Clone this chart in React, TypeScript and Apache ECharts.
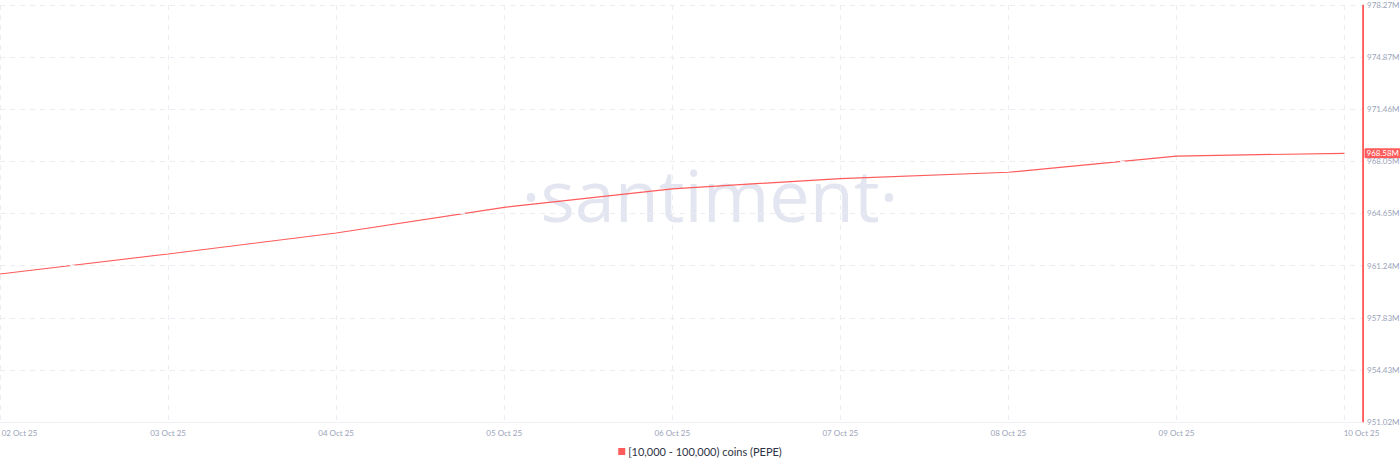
import React, { useEffect, useRef } from "react";
import * as echarts from "echarts";

const DATES = [
  "2025-10-02",
  "2025-10-03",
  "2025-10-04",
  "2025-10-05",
  "2025-10-06",
  "2025-10-07",
  "2025-10-08",
  "2025-10-09",
  "2025-10-10",
];
// values in millions of PEPE
const VALUES = [960.69, 962.0, 963.37, 965.05, 966.26, 966.93, 967.34, 968.4, 968.58];
const Y_TICKS = [951.02, 954.43, 957.83, 961.24, 964.65, 968.05, 971.46, 974.87, 978.27];
const SERIES_NAME = "[10,000 - 100,000) coins (PEPE)";
const MONTHS = ["Jan", "Feb", "Mar", "Apr", "May", "Jun", "Jul", "Aug", "Sep", "Oct", "Nov", "Dec"];

const RED = "#ff5b5b";
const LABEL_COLOR = "#9aa3b8";
const GRID_COLOR = "#ebedf2";

function toTime(s: string): number {
  const [y, m, d] = s.split("-").map(Number);
  return new Date(y, m - 1, d).getTime();
}

export default function App() {
  const ref = useRef<HTMLDivElement>(null);
  useEffect(() => {
    document.body.style.margin = "0";
    if (!ref.current) return;
    const chart = echarts.init(ref.current, undefined, { renderer: "svg" });
    const times = DATES.map(toTime);
    const day = 86400000;
    const firstTime = times[0];
    const lastTime = times[times.length - 1];
    const xMax = lastTime + 0.11 * day;
    const last = VALUES[VALUES.length - 1];
    const watermark = {
      type: "text",
      x: 710,
      y: 194,
      silent: true,
      z: 0,
      style: {
        text: "·santiment·",
        fill: "#e3e6f0",
        fontSize: 72,
        fontFamily: "'Open Sans', sans-serif",
        fontWeight: "normal",
        textAlign: "center",
        textVerticalAlign: "middle",
      },
    };
    chart.setOption({
      animation: false,
      backgroundColor: "#ffffff",
      textStyle: { fontFamily: "Lato, 'Open Sans', sans-serif" },
      grid: {
        left: 0,
        right: 37,
        top: 5,
        bottom: 51,
        containLabel: false,
        outerBoundsMode: "none",
      },
      graphic: [watermark],
      legend: {
        bottom: 11,
        left: "center",
        icon: "rect",
        itemWidth: 7,
        itemHeight: 7,
        itemGap: 4,
        textStyle: { color: "#2f3344", fontSize: 11, padding: [0, 0, 0, -2] },
        data: [SERIES_NAME],
      },
      xAxis: {
        type: "time",
        min: firstTime,
        max: xMax,
        minInterval: day,
        maxInterval: day,
        axisLine: { show: true, lineStyle: { color: "#eef0f4" } },
        axisTick: { show: false },
        splitLine: {
          show: true,
          showMaxLine: false,
          lineStyle: { color: GRID_COLOR, type: [5, 5] },
        },
        axisLabel: {
          color: LABEL_COLOR,
          fontSize: 8,
          margin: 7,
          showMaxLabel: false,
          hideOverlap: false,
          rich: {
            first: { color: LABEL_COLOR, fontSize: 8, padding: [0, 0, 0, 39] },
            last: { color: LABEL_COLOR, fontSize: 8, padding: [0, 0, 0, 34] },
          },
          formatter: (v: number) => {
            const d = new Date(v);
            const dd = String(d.getDate()).padStart(2, "0");
            const yy = String(d.getFullYear() % 100).padStart(2, "0");
            const s = `${dd} ${MONTHS[d.getMonth()]} ${yy}`;
            if (v === firstTime) return `{first|${s}}`;
            if (v === lastTime) return `{last|${s}}`;
            return s;
          },
        },
      },
      yAxis: {
        type: "value",
        position: "right",
        z: 5,
        min: Y_TICKS[0],
        max: Y_TICKS[Y_TICKS.length - 1],
        axisLine: { show: true, onZero: false, lineStyle: { color: RED, width: 1 } },
        axisTick: { show: false, customValues: Y_TICKS },
        splitLine: { show: true, lineStyle: { color: GRID_COLOR, type: [5, 5] } },
        axisLabel: {
          customValues: Y_TICKS,
          color: LABEL_COLOR,
          fontSize: 8,
          margin: 4,
          formatter: (v: number) => v.toFixed(2) + "M",
        },
      },
      series: [
        {
          name: SERIES_NAME,
          type: "line",
          data: times.map((t, i) => [t, VALUES[i]]),
          showSymbol: false,
          symbol: "none",
          color: RED,
          lineStyle: { color: RED, width: 1.2 },
          z: 3,
          endLabel: {
            show: true,
            distance: 20,
            formatter: () => last.toFixed(2) + "M",
            color: "#ffffff",
            backgroundColor: RED,
            fontSize: 8,
            padding: [1, 2, 1, 2],
            borderRadius: 1,
          },
        },
      ],
    });
    // red value-axis line, positioned through the chart's own scales
    const top = chart.convertToPixel({ gridIndex: 0 }, [xMax, Y_TICKS[Y_TICKS.length - 1]]) as number[];
    const bottom = chart.convertToPixel({ gridIndex: 0 }, [xMax, Y_TICKS[0]]) as number[];
    if (top && bottom) {
      const x = Math.round(top[0]) - 0.5;
      chart.setOption({
        graphic: [
          watermark,
          {
            type: "line",
            silent: true,
            z: 100,
            shape: { x1: x, y1: top[1], x2: x, y2: bottom[1] },
            style: { stroke: RED, lineWidth: 1, opacity: 0.85 },
          },
        ],
      });
    }
    return () => chart.dispose();
  }, []);
  return <div ref={ref} style={{ width: 1400, height: 473 }} />;
}
